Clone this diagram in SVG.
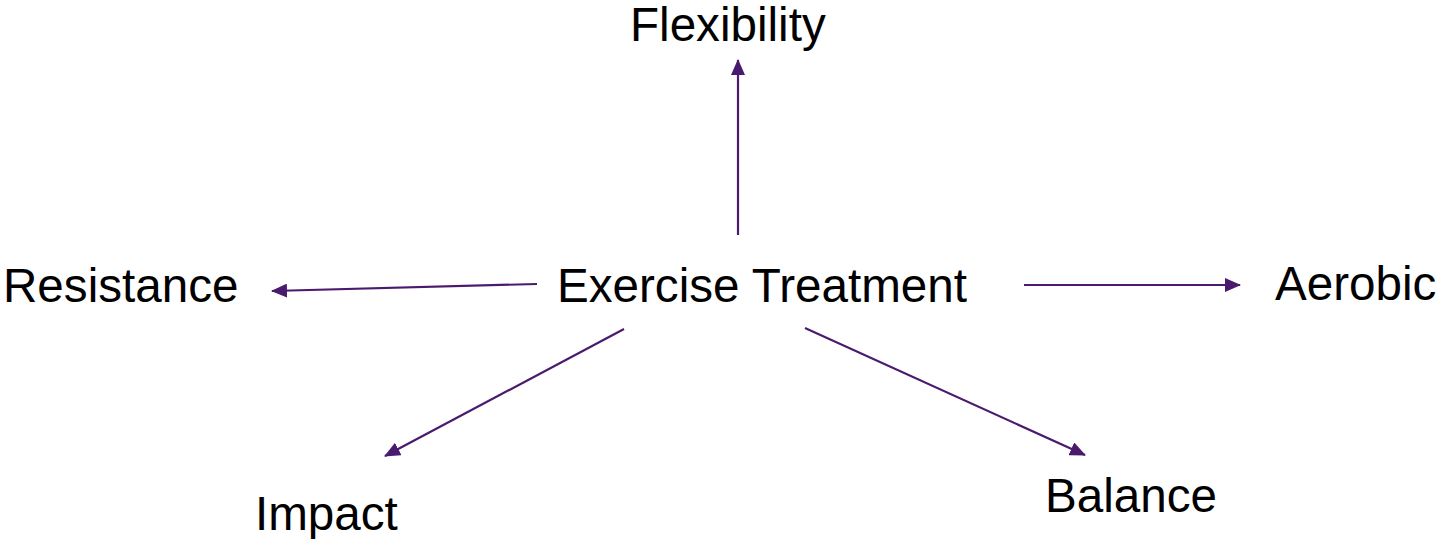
<svg xmlns="http://www.w3.org/2000/svg" width="1441" height="539" viewBox="0 0 1441 539">
<style>
.lbl{font-family:"Liberation Sans",Arial,sans-serif;font-size:47.6px;fill:#000}
.con{stroke:#4a1a6e;stroke-width:2.2;fill:none;marker-end:url(#ah)}
</style>
<defs>
<marker id="ah" markerUnits="userSpaceOnUse" markerWidth="16" markerHeight="14" refX="15" refY="7" orient="auto">
<path d="M0,0 L16,7 L0,14 Z" fill="#4a1a6e"/>
</marker>
</defs>
<rect width="1441" height="539" fill="#fff"/>
<g id="connectors">
<line class="con" x1="738" y1="235" x2="738" y2="60"/>
<line class="con" x1="537" y1="284" x2="272" y2="291"/>
<line class="con" x1="1024" y1="285" x2="1240" y2="285"/>
<line class="con" x1="624" y1="329" x2="385" y2="456"/>
<line class="con" x1="805" y1="328" x2="1085" y2="455"/>
</g>
<g id="center"><text class="lbl" x="557" y="302">Exercise Treatment</text></g>
<g id="flexibility"><text class="lbl" x="630" y="41">Flexibility</text></g>
<g id="resistance"><text class="lbl" x="3" y="302">Resistance</text></g>
<g id="aerobic"><text class="lbl" x="1275" y="300">Aerobic</text></g>
<g id="impact"><text class="lbl" x="255" y="530">Impact</text></g>
<g id="balance"><text class="lbl" x="1045" y="512">Balance</text></g>
</svg>
